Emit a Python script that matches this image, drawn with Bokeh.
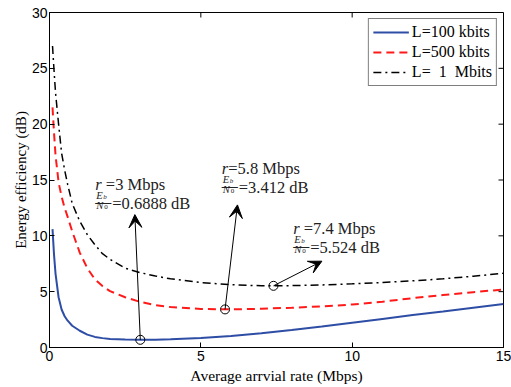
from bokeh.plotting import figure
from bokeh.models import Label, Arrow, VeeHead, Legend, LegendItem, FixedTicker, Range1d
from bokeh.embed import file_html
from bokeh.resources import INLINE

# ---- data ----
rate = [0.1, 0.15, 0.2, 0.3, 0.4, 0.5, 0.6, 0.75, 1.0, 1.25, 1.5, 1.75, 2.0, 2.5,
        3.0, 3.5, 4, 5, 6, 7, 8, 9, 10, 11, 12, 13, 14, 15]
eff_100k = [10.6, 8.3, 6.6, 4.5, 3.4, 2.8, 2.4, 1.95, 1.5, 1.15, 0.95, 0.84, 0.77, 0.71,
            0.69, 0.70, 0.73, 0.85, 1.04, 1.28, 1.56, 1.88, 2.22, 2.56, 2.9, 3.23, 3.57, 3.9]
eff_500k = [21.5, 19.2, 17.2, 14.8, 13.5, 12.5, 11.7, 10.4, 8.5, 7.1, 6.1, 5.5, 5.05, 4.5,
            4.08, 3.8, 3.62, 3.45, 3.415, 3.47, 3.56, 3.68, 3.85, 4.1, 4.42, 4.7, 4.95, 5.2]
eff_1M = [27.0, 24.8, 22.8, 20.0, 17.4, 15.9, 14.6, 12.9, 11.3, 10.1, 9.2, 8.4, 7.9, 7.1,
          6.7, 6.4, 6.15, 5.82, 5.62, 5.53, 5.54, 5.6, 5.7, 5.82, 5.97, 6.15, 6.38, 6.65]
series_labels = ["L=100 kbits", "L=500 kbits", "L=\u00a0\u00a01\u00a0\u00a0Mbits"]

opt_rate = [3.0, 5.8, 7.4]
opt_eff = [0.6888, 3.412, 5.524]
rate_text = ["\u00a0=3 Mbps", "=5.8 Mbps", "\u00a0=7.4 Mbps"]
eff_text = ["=0.6888 dB", "=3.412 dB", "=5.524 dB"]
# annotation text anchors (data units) and arrow tips
text_x = [1.51, 5.69, 8.05]
text_y = [14.64, 16.07, 10.70]
tip_x = [2.82, 6.21, 9.0]
tip_y = [11.9, 12.77, 7.73]

x_ticks = [0, 5, 10, 15]
y_ticks = [0, 5, 10, 15, 20, 25, 30]
x_min, x_max = 0, 15
y_min, y_max = 0, 30

SERIF = "Liberation Serif"
SANS = "Liberation Sans"
TXT = "#222222"

W, H = 511, 387
BL, BR, BT, BB = 49, 8, 12, 40

p = figure(width=W, height=H, output_backend="svg", toolbar_location=None,
           x_range=Range1d(x_min, x_max), y_range=Range1d(y_min, y_max),
           min_border_left=BL, min_border_right=BR, min_border_top=BT, min_border_bottom=BB)
p.xgrid.visible = False
p.ygrid.visible = False
p.outline_line_color = "black"
p.outline_line_width = 1
p.background_fill_color = "white"
p.border_fill_color = "white"

for ax in [p.xaxis[0], p.yaxis[0]]:
    ax.major_tick_in = 5
    ax.major_tick_out = 0
    ax.minor_tick_in = 0
    ax.minor_tick_out = 0
    ax.axis_line_color = "black"
    ax.major_tick_line_color = "black"
    ax.major_label_text_font = SANS
    ax.major_label_text_font_size = "14px"
    ax.major_label_text_color = "black"
    ax.axis_label_text_font = SERIF
    ax.axis_label_text_font_style = "normal"
    ax.axis_label_text_color = "black"
p.xaxis[0].axis_label_text_font_size = "15.5px"
p.yaxis[0].axis_label_text_font_size = "15px"
p.xaxis[0].ticker = FixedTicker(ticks=x_ticks)
p.yaxis[0].ticker = FixedTicker(ticks=y_ticks)
p.xaxis[0].axis_label = "Average arrvial rate (Mbps)"
p.yaxis[0].axis_label = "Energy efficiency (dB)"
p.xaxis[0].major_label_standoff = 3
p.yaxis[0].major_label_standoff = 2
p.xaxis[0].axis_label_standoff = 3
p.yaxis[0].axis_label_standoff = 0

# inward tick marks on the top and right edges of the box
frame_w = W - BL - BR
frame_h = H - BT - BB
tick_px = 5
dy = tick_px * (y_max - y_min) / frame_h
dx = tick_px * (x_max - x_min) / frame_w
p.segment(x0=x_ticks, y0=[y_max] * len(x_ticks), x1=x_ticks, y1=[y_max - dy] * len(x_ticks),
          line_color="black", line_width=1)
p.segment(x0=[x_max] * len(y_ticks), y0=y_ticks, x1=[x_max - dx] * len(y_ticks), y1=y_ticks,
          line_color="black", line_width=1)

r1 = p.line(rate, eff_100k, line_color="#2e4da5", line_width=2)
r2 = p.line(rate, eff_500k, line_color="#ff1a1a", line_width=2, line_dash="8 5")
r3 = p.line(rate, eff_1M, line_color="black", line_width=1.5, line_dash="8 4 2 4")

p.scatter(opt_rate, opt_eff, marker="circle", size=9, fill_color=None,
          line_color="black", line_width=1)

for i in range(3):
    p.add_layout(Arrow(x_start=opt_rate[i], y_start=opt_eff[i], x_end=tip_x[i], y_end=tip_y[i],
                       line_color="black", line_width=1,
                       end=VeeHead(size=13, fill_color="black", line_color="black")))
    tx, ty = text_x[i], text_y[i]
    p.add_layout(Label(x=tx, y=ty, text="r", text_font=SERIF, text_font_size="16.5px",
                       text_font_style="italic", text_baseline="alphabetic", text_color=TXT))
    p.add_layout(Label(x=tx, y=ty, x_offset=6.5, text=rate_text[i], text_font=SERIF,
                       text_font_size="16.5px", text_baseline="alphabetic", text_color=TXT))
    # fraction Eb / N0
    p.add_layout(Label(x=tx, y=ty, x_offset=1, y_offset=-11.5, text="E", text_font=SERIF,
                       text_font_size="10.5px", text_font_style="italic", text_baseline="alphabetic",
                       text_color=TXT))
    p.add_layout(Label(x=tx, y=ty, x_offset=8, y_offset=-13, text="b", text_font=SERIF,
                       text_font_size="7px", text_font_style="italic", text_baseline="alphabetic",
                       text_color=TXT))
    p.add_layout(Label(x=tx, y=ty, x_offset=0, y_offset=-17.5, text="\u2014", text_font=SERIF,
                       text_font_size="16px", text_baseline="alphabetic", text_color=TXT))
    p.add_layout(Label(x=tx, y=ty, x_offset=1, y_offset=-21.5, text="N", text_font=SERIF,
                       text_font_size="10.5px", text_font_style="italic", text_baseline="alphabetic",
                       text_color=TXT))
    p.add_layout(Label(x=tx, y=ty, x_offset=9, y_offset=-23, text="0", text_font=SERIF,
                       text_font_size="7px", text_baseline="alphabetic", text_color=TXT))
    p.add_layout(Label(x=tx, y=ty, x_offset=17, y_offset=-19, text=eff_text[i], text_font=SERIF,
                       text_font_size="16.5px", text_baseline="alphabetic", text_color=TXT))

legend = Legend(items=[LegendItem(label=series_labels[0], renderers=[r1]),
                       LegendItem(label=series_labels[1], renderers=[r2]),
                       LegendItem(label=series_labels[2], renderers=[r3])],
                location="top_right")
legend.label_text_font = SERIF
legend.label_text_font_size = "16px"
legend.label_text_color = "black"
legend.glyph_width = 36
legend.glyph_height = 16
legend.label_height = 16
legend.label_standoff = 3
legend.spacing = 2
legend.padding = 4
legend.margin = 6
legend.border_line_color = "black"
legend.border_line_width = 1
legend.background_fill_alpha = 1
p.add_layout(legend)

open("out.html", "w").write(file_html(p, INLINE))
